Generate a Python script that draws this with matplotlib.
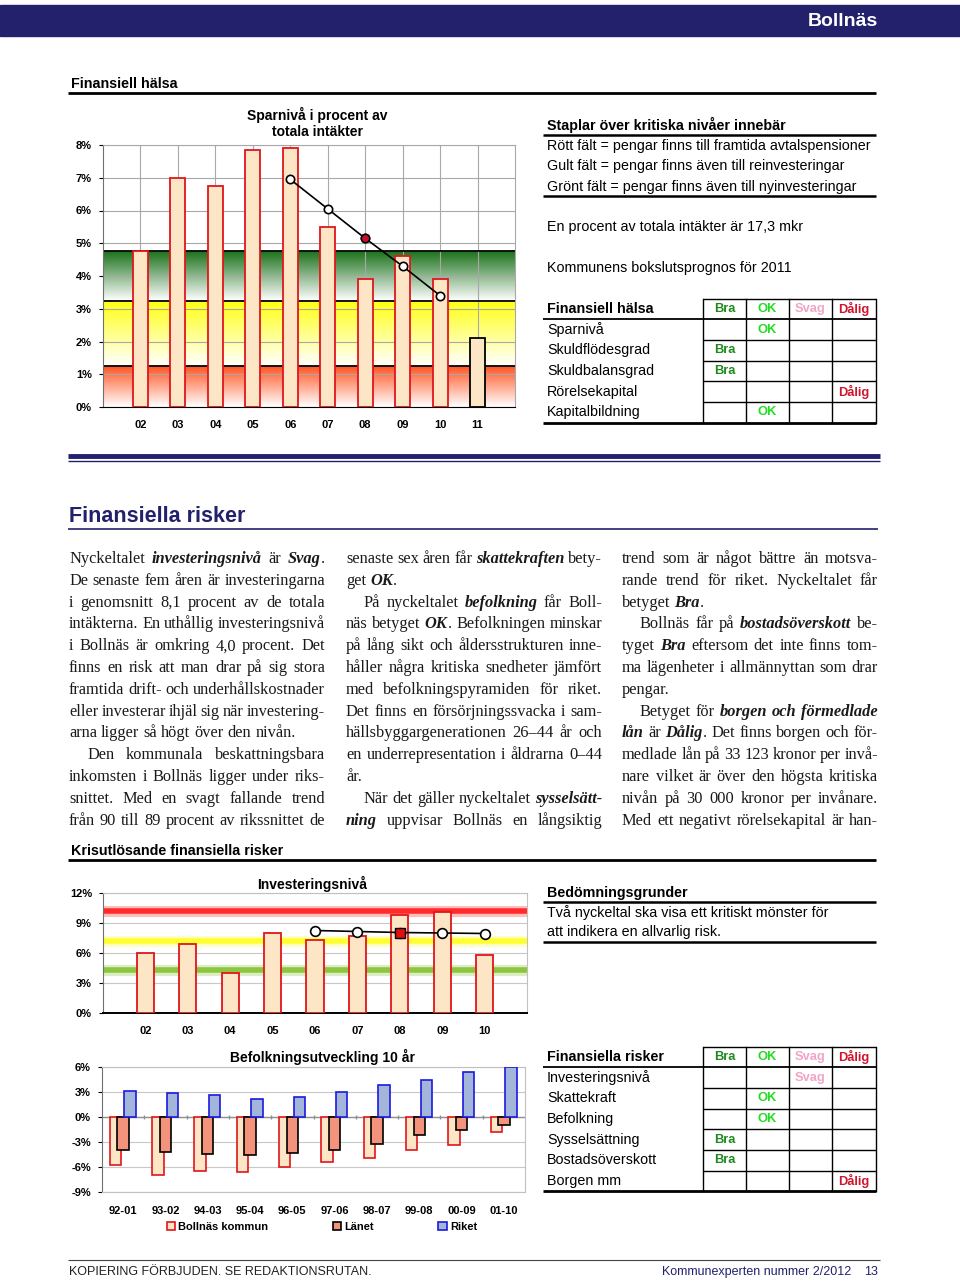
import numpy as np
import matplotlib
matplotlib.use('Agg')
import matplotlib.pyplot as plt
from matplotlib import font_manager
from matplotlib.font_manager import FontProperties
from matplotlib.colors import LinearSegmentedColormap
from matplotlib.patches import Rectangle

# ---------------- data ----------------
spar_years = ['02', '03', '04', '05', '06', '07', '08', '09', '10', '11']
spar_values = [4.75, 7.0, 6.75, 7.85, 7.9, 5.5, 3.9, 4.6, 3.9, 2.1]
spar_trend_years = ['06', '07', '08', '09', '10']
spar_trend = [6.95, 6.05, 5.15, 4.3, 3.4]
spar_bands = [1.25, 3.25, 4.75]

inv_years = ['02', '03', '04', '05', '06', '07', '08', '09', '10']
inv_values = [6.0, 6.9, 4.0, 8.0, 7.3, 7.7, 9.8, 10.1, 5.8]
inv_trend_years = ['06', '07', '08', '09', '10']
inv_trend = [8.25, 8.15, 8.05, 8.0, 7.95]
inv_levels = [4.3, 7.2, 10.2]

pop_periods = ['92-01', '93-02', '94-03', '95-04', '96-05', '97-06', '98-07', '99-08', '00-09', '01-10']
pop_bollnas = [-5.7, -6.9, -6.5, -6.6, -6.0, -5.4, -4.9, -4.0, -3.3, -1.8]
pop_lanet = [-3.9, -4.2, -4.4, -4.5, -4.3, -3.9, -3.2, -2.2, -1.6, -1.0]
pop_riket = [3.1, 2.9, 2.6, 2.2, 2.4, 3.0, 3.8, 4.5, 5.4, 6.0]

grades = ['Bra', 'OK', 'Svag', 'Dålig']
health_items = ['Sparnivå', 'Skuldflödesgrad', 'Skuldbalansgrad', 'Rörelsekapital', 'Kapitalbildning']
health_grades = ['OK', 'Bra', 'Bra', 'Dålig', 'OK']
risk_items = ['Investeringsnivå', 'Skattekraft', 'Befolkning', 'Sysselsättning', 'Bostadsöverskott', 'Borgen mm']
risk_grades = ['Svag', 'OK', 'OK', 'Bra', 'Bra', 'Dålig']

# body text, *..* = bold italic, leading '>' = indent, trailing '|' = last line of paragraph
col1 = [
    "Nyckeltalet *investeringsnivå* är *Svag*.",
    "De senaste fem åren är investeringarna",
    "i genomsnitt 8,1 procent av de totala",
    "intäkterna. En uthållig investeringsnivå",
    "i Bollnäs är omkring 4,0 procent. Det",
    "finns en risk att man drar på sig stora",
    "framtida drift- och underhållskostnader",
    "eller investerar ihjäl sig när investering-",
    "arna ligger så högt över den nivån.|",
    ">Den kommunala beskattningsbara",
    "inkomsten i Bollnäs ligger under riks-",
    "snittet. Med en svagt fallande trend",
    "från 90 till 89 procent av rikssnittet de",
]
col2 = [
    "senaste sex åren får *skattekraften* bety-",
    "get *OK*.|",
    ">På nyckeltalet *befolkning* får Boll-",
    "näs betyget *OK*. Befolkningen minskar",
    "på lång sikt och åldersstrukturen inne-",
    "håller några kritiska snedheter jämfört",
    "med befolkningspyramiden för riket.",
    "Det finns en försörjningssvacka i sam-",
    "hällsbyggargenerationen 26–44 år och",
    "en underrepresentation i åldrarna 0–44",
    "år.|",
    ">När det gäller nyckeltalet *sysselsätt-*",
    "*ning* uppvisar Bollnäs en långsiktig",
]
col3 = [
    "trend som är något bättre än motsva-",
    "rande trend för riket. Nyckeltalet får",
    "betyget *Bra*.|",
    ">Bollnäs får på *bostadsöverskott* be-",
    "tyget *Bra* eftersom det inte finns tom-",
    "ma lägenheter i allmännyttan som drar",
    "pengar.|",
    ">Betyget för *borgen* *och* *förmedlade*",
    "*lån* är *Dålig*. Det finns borgen och för-",
    "medlade lån på 33 123 kronor per invå-",
    "nare vilket är över den högsta kritiska",
    "nivån på 30 000 kronor per invånare.",
    "Med ett negativt rörelsekapital är han-",
]

# ---------------- style ----------------
NAVY = '#23206c'
PEACH = '#fde6c6'
RED = '#e0161c'
grade_colors = {'Bra': '#1e8a1e', 'OK': '#22dd22', 'Svag': '#f2a4c8', 'Dålig': '#d0142c'}

names = {f.name for f in font_manager.fontManager.ttflist}
SANS = 'Liberation Sans'
NARROW = 'Liberation Sans Narrow' if 'Liberation Sans Narrow' in names else SANS
SERIF = 'Liberation Serif'
plt.rcParams['font.family'] = SANS
NOTE = 10.3

fig = plt.figure(figsize=(9.6, 12.82), dpi=100)
page = fig.add_axes([0, 0, 1, 1])
page.set_xlim(0, 960)
page.set_ylim(1282, 0)
page.axis('off')


def box(x0, y0, x1, y1):
    return [x0 / 960, 1 - y1 / 1282, (x1 - x0) / 960, (y1 - y0) / 1282]


def hline(y, x0, x1, lw=1.0, color='black'):
    page.plot([x0, x1], [y, y], color=color, lw=lw, solid_capstyle='butt')


# banner
page.add_patch(Rectangle((0, 5), 960, 31, color=NAVY))
page.text(878, 21, 'Bollnäs', color='white', fontsize=14, weight='bold',
          ha='right', va='center', family=NARROW)

# section heads
page.text(71, 84, 'Finansiell hälsa', fontsize=10.3, weight='bold', va='center', family=NARROW)
hline(93, 68, 876, 2)
page.text(71, 851, 'Krisutlösande finansiella risker', fontsize=10.3, weight='bold', va='center', family=NARROW)
hline(860, 68, 876, 2)

hline(456, 68, 880, 3.5, NAVY)
hline(461, 68, 880, 1, NAVY)
page.text(69, 517, 'Finansiella risker', fontsize=15.5, weight='bold', color=NAVY,
          va='center', family=NARROW)
hline(529, 68, 878, 1.2, NAVY)

# right side notes
page.text(547, 125, 'Staplar över kritiska nivåer innebär', fontsize=NOTE, weight='bold', va='center')
hline(135, 543, 876, 1.8)
for y, s in zip([146, 166, 186.5], ['Rött fält = pengar finns till framtida avtalspensioner',
                                    'Gult fält = pengar finns även till reinvesteringar',
                                    'Grönt fält = pengar finns även till nyinvesteringar']):
    page.text(547, y, s, fontsize=NOTE, va='center')
hline(196, 543, 876, 1.8)
page.text(547, 227, 'En procent av totala intäkter är 17,3 mkr', fontsize=NOTE, va='center')
page.text(547, 268, 'Kommunens bokslutsprognos för 2011', fontsize=NOTE, va='center')

page.text(547, 893, 'Bedömningsgrunder', fontsize=NOTE, weight='bold', va='center')
hline(902, 543, 876, 1.8)
page.text(547, 912.5, 'Två nyckeltal ska visa ett kritiskt mönster för', fontsize=NOTE, va='center')
page.text(547, 932, 'att indikera en allvarlig risk.', fontsize=NOTE, va='center')
hline(942, 543, 876, 1.8)


def grade_table(y_top, title, items, item_grades):
    rh = 20.7
    cols = [703, 746, 789, 832, 876]
    n = len(items) + 1
    y_bot = y_top + n * rh
    page.text(547, y_top + rh / 2, title, weight='bold', fontsize=NOTE, va='center')
    for j, g in enumerate(grades):
        page.text((cols[j] + cols[j + 1]) / 2, y_top + rh / 2, g, color=grade_colors[g],
                  weight='bold', fontsize=9.3, ha='center', va='center')
    for i, (item, g) in enumerate(zip(items, item_grades)):
        yc = y_top + (i + 1.5) * rh
        page.text(547, yc, item, fontsize=NOTE, va='center')
        j = grades.index(g)
        page.text((cols[j] + cols[j + 1]) / 2, yc, g, color=grade_colors[g],
                  weight='bold', fontsize=9.3, ha='center', va='center')
    for x in cols:
        page.plot([x, x], [y_top, y_bot], color='black', lw=1)
    hline(y_top, cols[0], cols[-1], 1)
    hline(y_top + rh, 543, 876, 1.3)
    for i in range(2, n):
        hline(y_top + i * rh, cols[0], cols[-1], 1)
    hline(y_bot, 543, 876, 2)


grade_table(298.5, 'Finansiell hälsa', health_items, health_grades)
grade_table(1046.5, 'Finansiella risker', risk_items, risk_grades)

# body text (justified)
fp_reg = FontProperties(family=SERIF, size=11.8)
fp_bi = FontProperties(family=SERIF, size=11.8, weight='bold', style='italic')
renderer = fig.canvas.get_renderer()


def text_w(s, bold):
    t = page.text(0, 0, s, fontproperties=fp_bi if bold else fp_reg)
    w = t.get_window_extent(renderer=renderer).width
    t.remove()
    return w


space_w = text_w('a a', False) - text_w('aa', False)


def draw_line(x0, width, y, line):
    indent = 0
    justify = True
    if line.startswith('>'):
        indent = 18
        line = line[1:]
    if line.endswith('|'):
        justify = False
        line = line[:-1]
    words = []
    for w in line.split(' '):
        segs = []
        for k, p in enumerate(w.split('*')):
            if p:
                segs.append((p, k % 2 == 1))
        words.append(segs)
    widths = [sum(text_w(p, b) for p, b in segs) for segs in words]
    if justify and len(words) > 1:
        gap = max((width - indent - sum(widths)) / (len(words) - 1), 1.5)
    else:
        gap = space_w
    x = x0 + indent
    for segs, w in zip(words, widths):
        xx = x
        for p, b in segs:
            page.text(xx, y, p, fontproperties=fp_bi if b else fp_reg, va='baseline', color='#1a1a1a')
            xx += text_w(p, b)
        x += w + gap


for cx, lines in zip([69, 346, 622], [col1, col2, col3]):
    for i, line in enumerate(lines):
        draw_line(cx, 256, 559 + 4 + i * 21.8, line)

# footer
hline(1260, 68, 880, 0.8, '#444444')
page.text(69, 1272, 'KOPIERING FÖRBJUDEN. SE REDAKTIONSRUTAN.', fontsize=9, va='center', color='#222222')
page.text(851, 1272, 'Kommunexperten nummer 2/2012', fontsize=9, va='center', ha='right', color=NAVY)
page.text(878, 1272, '13', fontsize=9, va='center', ha='right', color=NAVY)

tick_font = dict(fontsize=8, fontweight='bold')

# ---------------- chart 1: Sparnivå ----------------
ax1 = fig.add_axes(box(103, 145, 515, 407))
x1 = np.arange(1, len(spar_years) + 1)
band_colors = ['#ff5522', '#ffff10', '#1c721c']
grad = np.linspace(0, 1, 100).reshape(-1, 1)
for lo, hi, c in zip([0] + spar_bands[:-1], spar_bands, band_colors):
    cmap = LinearSegmentedColormap.from_list('band', ['white', c])
    ax1.imshow(grad, extent=[0, 11, lo, hi], origin='lower', cmap=cmap, aspect='auto', zorder=0.5)
    ax1.axhline(hi, color='#111111', lw=1.4, zorder=2)
edges = [RED] * (len(spar_years) - 1) + ['black']
ax1.bar(x1, spar_values, width=0.4, color=PEACH, edgecolor=edges, lw=1.3, zorder=3)
tx = [spar_years.index(y) + 1 for y in spar_trend_years]
ax1.plot(tx, spar_trend, color='black', lw=1.2, marker='o', ms=6, mfc='white', mec='black', mew=1.2, zorder=4)
ax1.plot(tx[2], spar_trend[2], marker='o', ms=6, mfc='#c8102e', mec='black', mew=1.0, zorder=5)
ax1.set_xlim(0, 11)
ax1.set_ylim(0, 8)
ax1.set_yticks(range(9), [f'{v}%' for v in range(9)], **tick_font)
ax1.set_xticks(x1, spar_years, **tick_font)
ax1.set_axisbelow('line')
ax1.grid(color='#a8a8a8', lw=0.8)
ax1.tick_params(axis='x', length=0, pad=9)
ax1.tick_params(axis='y', length=3, pad=5)
for s in ['top', 'right']:
    ax1.spines[s].set_color('#a8a8a8')
ax1.spines['left'].set_color('#707070')
ax1.spines['bottom'].set_color('black')
page.text(317, 123, 'Sparnivå i procent av\ntotala intäkter', ha='center', va='center',
          fontsize=10, weight='bold', linespacing=1.25)

# ---------------- chart 2: Investeringsnivå ----------------
ax2 = fig.add_axes(box(103, 893, 527, 1013))
x2 = np.arange(1, len(inv_years) + 1)
for lvl, c in zip(inv_levels, ['#8cc63f', '#ffff33', '#ff2a2a']):
    ax2.axhline(lvl, color=c, lw=8, alpha=0.3, zorder=1)
    ax2.axhline(lvl, color=c, lw=4, zorder=1.2)
ax2.bar(x2, inv_values, width=0.41, color=PEACH, edgecolor=RED, lw=1.3, zorder=3)
tx2 = [inv_years.index(y) + 1 for y in inv_trend_years]
ax2.plot(tx2, inv_trend, color='black', lw=1.2, marker='o', ms=7, mfc='white', mec='black', mew=1.2, zorder=4)
ax2.plot(tx2[2], inv_trend[2], marker='s', ms=6.5, mfc='#e01010', mec='black', mew=1.0, zorder=5)
ax2.set_xlim(0, 10)
ax2.set_ylim(0, 12)
ax2.set_yticks(range(0, 13, 3), [f'{v}%' for v in range(0, 13, 3)], **tick_font)
ax2.set_xticks(x2, inv_years, **tick_font)
ax2.set_axisbelow(True)
ax2.grid(axis='y', color='#c8c8c8', lw=0.8)
ax2.tick_params(axis='x', length=0, pad=9)
ax2.tick_params(axis='y', length=3, pad=5)
for s in ['top', 'right']:
    ax2.spines[s].set_color('#c0c0c0')
ax2.spines['left'].set_color('#707070')
ax2.spines['bottom'].set_linewidth(1.4)
page.text(312, 884, 'Investeringsnivå', ha='center', va='center', fontsize=10, weight='bold')

# ---------------- chart 3: Befolkningsutveckling ----------------
ax3 = fig.add_axes(box(102, 1067, 525, 1192))
x3 = np.arange(len(pop_periods))
ax3.bar(x3 - 0.18, pop_bollnas, 0.27, color=PEACH, edgecolor=RED, lw=1.2, zorder=3, label='Bollnäs kommun')
ax3.bar(x3, pop_lanet, 0.27, color='#f4937c', edgecolor='black', lw=1.2, zorder=4, label='Länet')
ax3.bar(x3 + 0.165, pop_riket, 0.27, color='#a3b5d9', edgecolor='#1a1ae0', lw=1.2, zorder=5, label='Riket')
ax3.axhline(0, color='#909090', lw=1, zorder=2)
ax3.vlines(x3[:-1] + 0.5, -0.25, 0.25, color='#909090', lw=1, zorder=2)
ax3.set_xlim(-0.5, 9.5)
ax3.set_ylim(-9, 6)
ax3.set_yticks(range(-9, 7, 3), [f'{v}%' for v in range(-9, 7, 3)], **tick_font)
ax3.set_xticks(x3, pop_periods, **tick_font)
ax3.set_axisbelow(True)
ax3.grid(axis='y', color='#c8c8c8', lw=0.8)
ax3.tick_params(axis='x', length=0, pad=10)
ax3.tick_params(axis='y', length=3, pad=5)
for s in ['top', 'right', 'bottom']:
    ax3.spines[s].set_color('#c0c0c0')
ax3.spines['left'].set_color('#707070')
ax3.legend(loc='center', bbox_to_anchor=(0.52, -0.28), ncol=3, frameon=False,
           handlelength=0.75, handleheight=0.75, handletextpad=0.3, columnspacing=5.8,
           prop={'size': 8, 'weight': 'bold'})
page.text(322, 1057, 'Befolkningsutveckling 10 år', ha='center', va='center', fontsize=10, weight='bold')

fig.savefig('out.png', dpi=100)
